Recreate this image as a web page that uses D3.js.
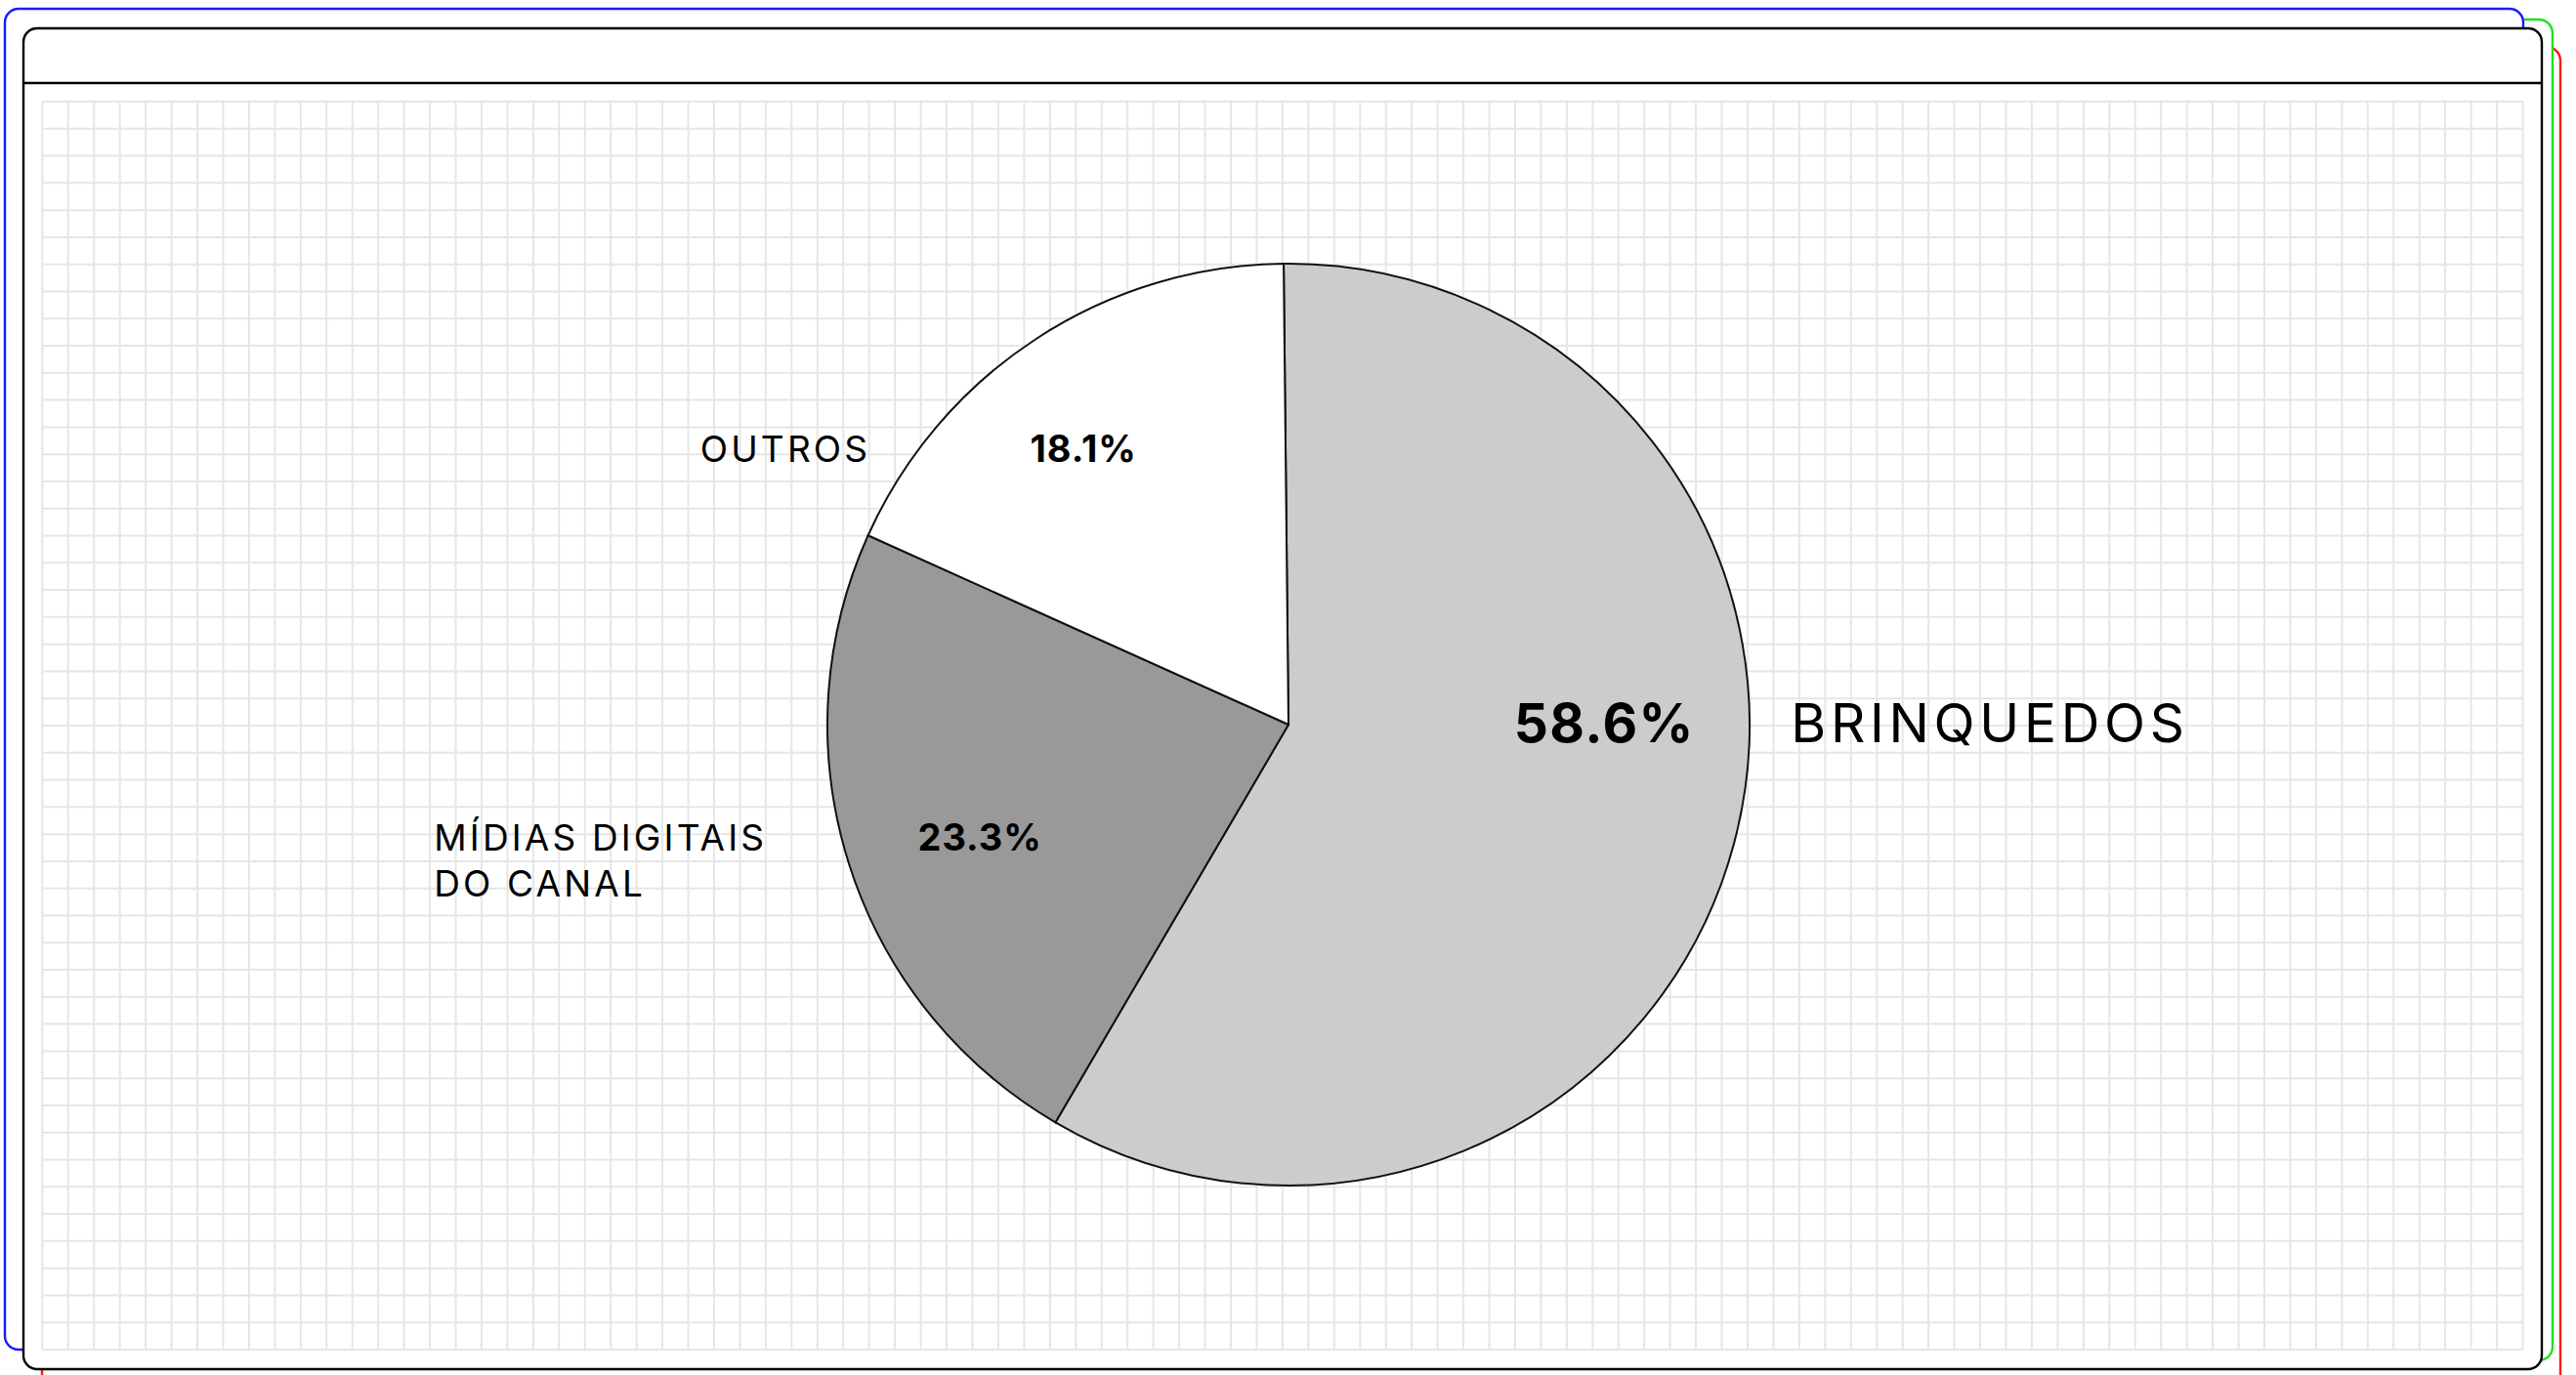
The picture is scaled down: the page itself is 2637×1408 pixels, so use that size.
<!DOCTYPE html>
<html lang="pt">
<head>
<meta charset="utf-8">
<title>Receita por categoria</title>
<script src="https://cdn.jsdelivr.net/npm/d3@7"></script>
<style>
  html, body { margin: 0; padding: 0; background: #ffffff; }
  svg { display: block; }
  text { font-family: Inter, "Liberation Sans", Arial, sans-serif; fill: #000; }
</style>
</head>
<body>
<svg id="chart"></svg>
<script>
// Revenue share by category
const categories = ["BRINQUEDOS", "MÍDIAS DIGITAIS\nDO CANAL", "OUTROS"];
const shares = [58.6, 23.3, 18.1];
const sliceFills = ["#cccccc", "#999999", "#ffffff"];

// Label placement per slice: angular shift from the slice's middle (degrees)
// and distance from the centre as a fraction of the radius
const labelShiftDeg = [-15.2, -2.3, -3.4];
const labelRadius = [0.685, 0.712, 0.746];

const W = 2637, H = 1408;
const svg = d3.select("#chart").attr("width", W).attr("height", H);

// Stacked card outlines behind the main panel
const card = { x: 24, y: 29, w: 2578, h: 1373, r: 14 };
const backCards = [
  { dx: 19, dy: 19, color: "#ff1a1a" },
  { dx: 11, dy: -9, color: "#1ee01e" },
  { dx: -19, dy: -20, color: "#1a1aff" }
];
svg.selectAll("rect.back")
  .data(backCards)
  .join("rect")
  .attr("class", "back")
  .attr("x", d => card.x + d.dx)
  .attr("y", d => card.y + d.dy)
  .attr("width", card.w)
  .attr("height", card.h)
  .attr("rx", card.r)
  .attr("fill", "#ffffff")
  .attr("stroke", d => d.color)
  .attr("stroke-width", 2.4);

svg.append("rect")
  .attr("x", card.x).attr("y", card.y)
  .attr("width", card.w).attr("height", card.h)
  .attr("rx", card.r)
  .attr("fill", "#ffffff")
  .attr("stroke", "#000")
  .attr("stroke-width", 2.4);

// Header divider
svg.append("line")
  .attr("x1", card.x).attr("x2", card.x + card.w)
  .attr("y1", 85).attr("y2", 85)
  .attr("stroke", "#000").attr("stroke-width", 2.4);

// Background graph-paper grid
const grid = { x0: 43.3, x1: 2582.5, y0: 104, y1: 1382, cols: 96, rows: 46 };
const gx = d3.scaleLinear().domain([0, grid.cols]).range([grid.x0, grid.x1]);
const gy = d3.scaleLinear().domain([0, grid.rows]).range([grid.y0, grid.y1]);
const gridG = svg.append("g").attr("stroke", "#e6e6e6").attr("stroke-width", 2);
gridG.selectAll("line.v")
  .data(d3.range(grid.cols + 1))
  .join("line")
  .attr("x1", d => gx(d)).attr("x2", d => gx(d))
  .attr("y1", grid.y0).attr("y2", grid.y1);
gridG.selectAll("line.h")
  .data(d3.range(grid.rows + 1))
  .join("line")
  .attr("x1", grid.x0).attr("x2", grid.x1)
  .attr("y1", d => gy(d)).attr("y2", d => gy(d));

// Pie
const cx = 1319, cy = 742, R = 472;
const data = categories.map((c, i) => ({ name: c, value: shares[i], fill: sliceFills[i] }));
const start = -0.0105;
const pie = d3.pie().sort(null).value(d => d.value)
  .startAngle(start).endAngle(start + 2 * Math.PI);
const arcs = pie(data);
const arc = d3.arc().innerRadius(0).outerRadius(R);

const g = svg.append("g").attr("transform", `translate(${cx},${cy})`);
g.selectAll("path")
  .data(arcs)
  .join("path")
  .attr("d", arc)
  .attr("fill", d => d.data.fill)
  .attr("stroke", "#111")
  .attr("stroke-width", 2);

// Labels: value inside the slice, category name beside it
const maxValue = d3.max(shares);
const polar = (a, r) => [r * Math.sin(a), -r * Math.cos(a)];
const nameSpacing = "0.085em";

arcs.forEach(d => {
  const hero = d.data.value === maxValue;
  const mid = (d.startAngle + d.endAngle) / 2;
  const a = mid + labelShiftDeg[d.index] * Math.PI / 180;
  const [px, py] = polar(a, labelRadius[d.index] * R);
  const valueSize = hero ? 55 : 38;
  const nameSize = hero ? 55 : 37;
  const base = py + valueSize * 0.364;

  g.append("text")
    .attr("x", px).attr("y", base)
    .attr("text-anchor", "middle")
    .attr("font-weight", 700)
    .attr("font-size", valueSize)
    .attr("letter-spacing", "0.025em")
    .text(d3.format(".1f")(d.data.value) + "%");

  const lines = d.data.name.split("\n");
  const t = g.append("text")
    .attr("y", base)
    .attr("font-weight", 400)
    .attr("font-size", nameSize)
    .attr("letter-spacing", nameSpacing);
  if (hero) {
    t.attr("x", px + 191).attr("text-anchor", "start").text(lines[0]);
  } else {
    // lines share a left edge; the first line ends a fixed gap before the value
    const tmp = g.append("text").attr("font-size", nameSize)
      .attr("letter-spacing", nameSpacing).text(lines[0]);
    const w = tmp.node().getComputedTextLength();
    tmp.remove();
    const left = px - 218 - w;
    t.attr("x", left).attr("text-anchor", "start");
    t.selectAll("tspan")
      .data(lines)
      .join("tspan")
      .attr("x", left)
      .attr("dy", (l, i) => i === 0 ? 0 : 47)
      .text(l => l);
  }
});
</script>
</body>
</html>
